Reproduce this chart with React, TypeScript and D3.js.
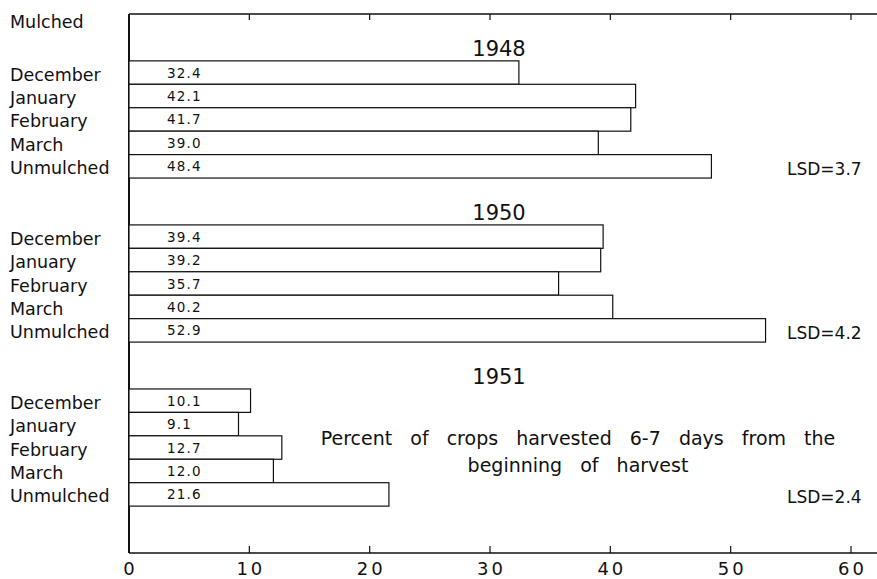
import React, { useEffect, useRef } from "react";
import * as d3 from "d3";

const months = ["December", "January", "February", "March", "Unmulched"];
const years = ["1948", "1950", "1951"];
const values1948 = [32.4, 42.1, 41.7, 39.0, 48.4];
const values1950 = [39.4, 39.2, 35.7, 40.2, 52.9];
const values1951 = [10.1, 9.1, 12.7, 12.0, 21.6];
const lsdValues = [3.7, 4.2, 2.4];
const xTicks = [0, 10, 20, 30, 40, 50, 60];
const noteLines = ["Percent  of  crops  harvested  6-7  days  from  the", "beginning  of  harvest"];

const FONT = "'DejaVu Sans', sans-serif";

export default function App() {
  const ref = useRef<SVGSVGElement | null>(null);

  useEffect(() => {
    const W = 877, H = 579;
    const svg = d3.select(ref.current);
    svg.selectAll("*").remove();
    svg.attr("width", W).attr("height", H);

    const series = [values1948, values1950, values1951];

    // row layout: header, then per year a label row, 5 bars, one gap row
    const rows: string[] = ["mulched"];
    years.forEach((yr, i) => {
      rows.push("label-" + yr);
      months.forEach(m => rows.push(yr + "-" + m));
      if (i < years.length - 1) rows.push("gap-" + yr);
    });
    rows.push("end1", "end2");

    const top = 14, bottom = 553;
    const y = d3.scaleBand().domain(rows).range([top, bottom]).padding(0);
    const x = d3.scaleLinear().domain([0, 60]).range([129, 851]);
    const bw = y.bandwidth();

    // frame: top line, left line, bottom axis
    svg.append("line").attr("x1", x(0)).attr("x2", W).attr("y1", top).attr("y2", top)
      .attr("stroke", "#111").attr("stroke-width", 1.3);
    svg.append("line").attr("x1", x(0)).attr("x2", W).attr("y1", bottom).attr("y2", bottom)
      .attr("stroke", "#111").attr("stroke-width", 1.3);
    svg.append("line").attr("x1", x(0)).attr("x2", x(0)).attr("y1", top).attr("y2", bottom)
      .attr("stroke", "#111").attr("stroke-width", 2);

    const inner = xTicks.filter(t => t > 0);
    svg.selectAll("line.ttop").data(inner).join("line").attr("class", "ttop")
      .attr("x1", d => x(d)).attr("x2", d => x(d)).attr("y1", top).attr("y2", top + 6)
      .attr("stroke", "#111").attr("stroke-width", 1.2);
    svg.selectAll("line.tbot").data(inner).join("line").attr("class", "tbot")
      .attr("x1", d => x(d)).attr("x2", d => x(d)).attr("y1", bottom).attr("y2", bottom - 7)
      .attr("stroke", "#111").attr("stroke-width", 1.2);

    // letter-spacing adds a trailing gap, so nudge right by half of it
    svg.selectAll("text.tick").data(xTicks).join("text").attr("class", "tick")
      .attr("x", d => x(d) + 1.5).attr("y", 575).attr("text-anchor", "middle")
      .attr("font-family", FONT).attr("font-size", 18).attr("letter-spacing", 3)
      .attr("fill", "#111").text(d => String(d));

    svg.append("text").attr("x", 10).attr("y", 28)
      .attr("font-family", FONT).attr("font-size", 17.5).attr("fill", "#111").text("Mulched");

    years.forEach((yr, i) => {
      const vals = series[i];
      const g = svg.append("g");
      const labelRow = "label-" + yr;
      g.append("text").attr("x", 499).attr("y", (y(labelRow) as number) + bw - 5)
        .attr("text-anchor", "middle").attr("font-family", FONT).attr("font-size", 21)
        .attr("fill", "#111").text(yr);

      const data = months.map((m, j) => ({ key: yr + "-" + m, month: m, v: vals[j] }));
      g.selectAll("rect").data(data).join("rect")
        .attr("x", x(0)).attr("y", d => y(d.key) as number)
        .attr("width", d => x(d.v) - x(0)).attr("height", bw)
        .attr("fill", "white").attr("stroke", "#111").attr("stroke-width", 1.2);

      g.selectAll("text.val").data(data).join("text").attr("class", "val")
        .attr("x", 167).attr("y", d => (y(d.key) as number) + bw / 2 + 5)
        .attr("font-family", FONT).attr("font-size", 13.5).attr("letter-spacing", 1.2)
        .attr("fill", "#111").text(d => d.v.toFixed(1));

      g.selectAll("text.cat").data(data).join("text").attr("class", "cat")
        .attr("x", 10).attr("y", d => (y(d.key) as number) + bw / 2 + 8)
        .attr("font-family", FONT).attr("font-size", 17.5)
        .attr("fill", "#111").text(d => d.month);

      const lastRow = yr + "-" + months[months.length - 1];
      g.append("text").attr("x", 787).attr("y", (y(lastRow) as number) + bw - 3)
        .attr("font-family", FONT).attr("font-size", 17)
        .attr("fill", "#111").text("LSD=" + lsdValues[i].toFixed(1));
    });

    svg.selectAll("text.note").data(noteLines).join("text").attr("class", "note")
      .attr("x", 578).attr("y", (d, i) => 445 + i * 27).attr("text-anchor", "middle")
      .attr("font-family", FONT).attr("font-size", 19).attr("word-spacing", 3)
      .attr("fill", "#111")
      .style("white-space", "pre").text(d => d);
  }, []);

  return (
    <div style={{ position: "absolute", left: 0, top: 0 }}>
      <svg ref={ref} style={{ display: "block", background: "white" }} />
    </div>
  );
}
